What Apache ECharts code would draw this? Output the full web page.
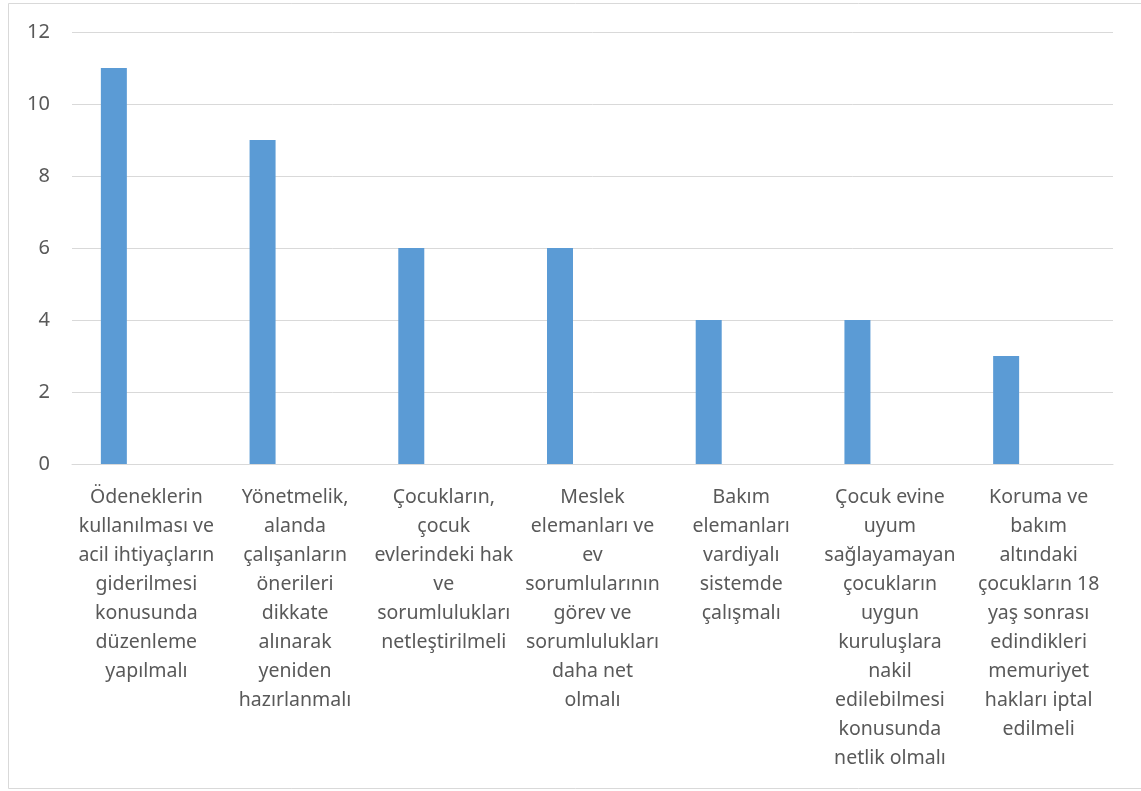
<!DOCTYPE html>
<html>
<head>
<meta charset="utf-8">
<script src="https://cdn.jsdelivr.net/npm/echarts@6/dist/echarts.min.js"></script>
<style>html,body{margin:0;padding:0;background:#fff}#c{width:1141px;height:791px}</style>
</head>
<body>
<div id="c"></div>
<script>
const categories = [
  "Ödeneklerin\nkullanılması ve\nacil ihtiyaçların\ngiderilmesi\nkonusunda\ndüzenleme\nyapılmalı",
  "Yönetmelik,\nalanda\nçalışanların\nönerileri\ndikkate\nalınarak\nyeniden\nhazırlanmalı",
  "Çocukların,\nçocuk\nevlerindeki hak\nve\nsorumlulukları\nnetleştirilmeli",
  "Meslek\nelemanları ve\nev\nsorumlularının\ngörev ve\nsorumlulukları\ndaha net\nolmalı",
  "Bakım\nelemanları\nvardiyalı\nsistemde\nçalışmalı",
  "Çocuk evine\nuyum\nsağlayamayan\nçocukların\nuygun\nkuruluşlara\nnakil\nedilebilmesi\nkonusunda\nnetlik olmalı",
  "Koruma ve\nbakım\naltındaki\nçocukların 18\nyaş sonrası\nedindikleri\nmemuriyet\nhakları iptal\nedilmeli"
];
const values = [11, 9, 6, 6, 4, 4, 3];
const emptySeries = [null, null, null, null, null, null, null];
const yTicks = [0, 2, 4, 6, 8, 10, 12];

const chart = echarts.init(document.getElementById('c'));
chart.setOption({
  animation: false,
  backgroundColor: '#fff',
  textStyle: { fontFamily: 'Noto Sans' },
  graphic: [{
    type: 'rect', shape: { x: 8.5, y: 3.5, width: 1150, height: 785 },
    style: { fill: null, stroke: '#d9d9d9', lineWidth: 1 }, silent: true, z: -1
  }],
  grid: { left: 72, right: 28, top: 32, bottom: 327, containLabel: false },
  xAxis: {
    type: 'category', data: categories,
    axisLine: { show: true, lineStyle: { color: '#d9d9d9', width: 1 } },
    axisTick: { show: false },
    axisLabel: { interval: 0, color: '#595959', fontSize: 19.5, lineHeight: 29, margin: 19, fontFamily: 'Noto Sans' }
  },
  yAxis: {
    type: 'value', min: 0, max: 12, interval: 2,
    axisLine: { show: false }, axisTick: { show: false },
    splitLine: { lineStyle: { color: '#d9d9d9', width: 1 } },
    axisLabel: { color: '#595959', fontSize: 20, margin: 22, fontFamily: 'Noto Sans',
      formatter: v => yTicks.includes(v) ? String(v) : '' }
  },
  series: [
    { type: 'bar', data: values, barWidth: 26, barGap: '150%', itemStyle: { color: '#5b9bd5' } },
    { type: 'bar', data: emptySeries, barWidth: 26, itemStyle: { color: '#ed7d31' } }
  ]
});
</script>
</body>
</html>
